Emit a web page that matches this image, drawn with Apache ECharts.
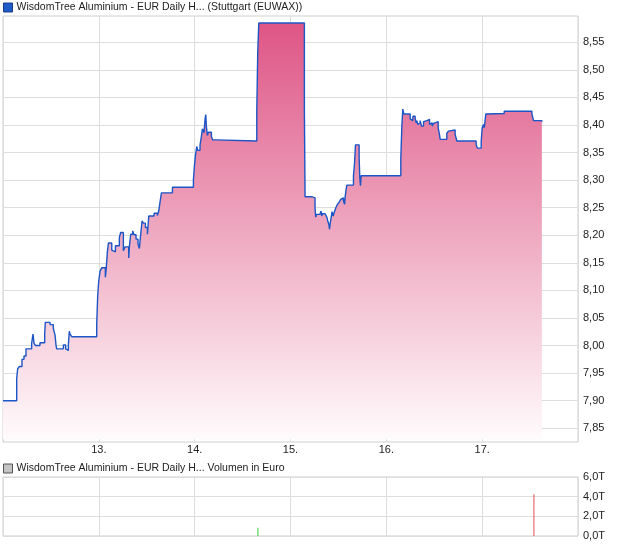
<!DOCTYPE html>
<html>
<head>
<meta charset="utf-8">
<script src="https://cdn.jsdelivr.net/npm/echarts@6/dist/echarts.min.js"></script>
<style>
html,body{margin:0;padding:0;background:#fff;}
#chart{width:620px;height:546px;}
</style>
</head>
<body>
<div id="chart"></div>
<script>
// ---- data ----
const seriesName = 'WisdomTree Aluminium - EUR Daily H... (Stuttgart (EUWAX))';
const volumeName = 'WisdomTree Aluminium - EUR Daily H... Volumen in Euro';
const dayTicks = [13, 14, 15, 16, 17];
const priceTicks = [7.85, 7.90, 7.95, 8.00, 8.05, 8.10, 8.15, 8.20, 8.25, 8.30, 8.35, 8.40, 8.45, 8.50, 8.55];
const volumeTicks = [0, 2, 4, 6];
// time in days (day-of-month, fractional)
const times = [
  12.000, 12.143, 12.153, 12.171, 12.198, 12.219, 12.240, 12.299, 12.313, 12.324,
  12.338, 12.386, 12.435, 12.442, 12.491, 12.525, 12.543, 12.553, 12.560, 12.630,
  12.654, 12.665, 12.682, 12.692, 12.699, 12.717, 12.978, 12.988, 12.999, 13.013,
  13.030, 13.068, 13.075, 13.089, 13.100, 13.135, 13.152, 13.173, 13.214, 13.228,
  13.256, 13.273, 13.312, 13.319, 13.333, 13.354, 13.367, 13.388, 13.409, 13.423,
  13.437, 13.451, 13.465, 13.486, 13.507, 13.521, 13.576, 13.611, 13.625, 13.635,
  13.653, 13.768, 13.987, 13.997, 14.008, 14.022, 14.032, 14.056, 14.070, 14.081,
  14.098, 14.109, 14.116, 14.122, 14.133, 14.143, 14.175, 14.189, 14.223, 14.648,
  14.658, 14.669,
  15.145, 15.152, 15.222, 15.256, 15.263, 15.273, 15.308, 15.319, 15.326, 15.333,
  15.361, 15.379, 15.389, 15.400, 15.407, 15.413, 15.424, 15.434, 15.445, 15.455,
  15.473, 15.490, 15.508, 15.525, 15.536, 15.553, 15.564, 15.571, 15.581, 15.588,
  15.657, 15.668, 15.678, 15.716, 15.723, 15.730, 15.737, 16.151, 16.162, 16.172,
  16.182, 16.249, 16.266, 16.277, 16.301, 16.312, 16.318, 16.329, 16.339, 16.353,
  16.367, 16.388, 16.405, 16.423, 16.451, 16.464, 16.478, 16.492, 16.509, 16.541,
  16.551, 16.562, 16.631, 16.649, 16.666, 16.718, 16.736, 16.937, 16.951, 16.990,
  17.000, 17.014, 17.021, 17.028, 17.038, 17.049, 17.230, 17.519, 17.536, 17.623
];
const prices = [
  7.900, 7.940, 7.958, 7.962, 7.975, 7.981, 7.994, 8.004, 8.021, 8.004,
  8.000, 8.005, 8.022, 8.042, 8.038, 8.031, 8.019, 8.001, 7.994, 8.001,
  7.994, 7.991, 8.001, 8.026, 8.021, 8.016, 8.039, 8.090, 8.117, 8.135,
  8.141, 8.124, 8.135, 8.170, 8.186, 8.173, 8.170, 8.181, 8.196, 8.205,
  8.172, 8.179, 8.159, 8.180, 8.202, 8.208, 8.201, 8.193, 8.184, 8.176,
  8.202, 8.226, 8.222, 8.214, 8.202, 8.235, 8.240, 8.236, 8.244, 8.256,
  8.277, 8.287, 8.300, 8.325, 8.345, 8.361, 8.354, 8.364, 8.379, 8.393,
  8.386, 8.412, 8.419, 8.398, 8.381, 8.387, 8.379, 8.373, 8.371, 8.423,
  8.531, 8.585,
  8.426, 8.270, 8.268, 8.250, 8.233, 8.238, 8.241, 8.244, 8.235, 8.239,
  8.236, 8.233, 8.226, 8.220, 8.211, 8.220, 8.232, 8.243, 8.235, 8.241,
  8.250, 8.256, 8.260, 8.265, 8.268, 8.262, 8.256, 8.271, 8.284, 8.291,
  8.308, 8.330, 8.364, 8.342, 8.305, 8.290, 8.308, 8.339, 8.398, 8.429,
  8.420, 8.411, 8.408, 8.416, 8.412, 8.404, 8.408, 8.401, 8.404, 8.408,
  8.398, 8.406, 8.408, 8.410, 8.401, 8.404, 8.398, 8.403, 8.406, 8.395,
  8.386, 8.374, 8.385, 8.389, 8.391, 8.383, 8.371, 8.364, 8.358, 8.370,
  8.395, 8.401, 8.395, 8.404, 8.420, 8.421, 8.425, 8.420, 8.408, 8.406
];
const volumeTimes = [14.66, 17.54];
const volumeValues = [0.85, 4.25]; // in T (thousand) Euro

// ---- chart ----
const fmtDe = (v, d) => v.toFixed(d).replace('.', ',');
const priceData = times.map((t, i) => [t, prices[i]]);
const volumeData = volumeTimes.map((t, i) => [t, volumeValues[i]]);
const volColors = ['#33cc33', '#e05050'];
const FONT = 'Liberation Sans, Arial, sans-serif';

const chart = echarts.init(document.getElementById('chart'), null, {renderer: 'canvas'});
chart.setOption({
  animation: false,
  backgroundColor: '#ffffff',
  textStyle: {fontFamily: FONT},
  legend: [
    {
      left: 3, top: 2, padding: 0, itemWidth: 9, itemHeight: 9, itemGap: 6,
      icon: 'rect',
      textStyle: {fontSize: 10.5, color: '#222', fontFamily: FONT, padding: [0, 0, 0, -1]},
      data: [{name: seriesName, itemStyle: {color: '#1f5bc9', borderColor: '#1a3f86', borderWidth: 1}}],
      selectedMode: false
    },
    {
      left: 3, top: 463, padding: 0, itemWidth: 9, itemHeight: 9,
      icon: 'rect',
      textStyle: {fontSize: 10.5, color: '#222', fontFamily: FONT, padding: [0, 0, 0, -1]},
      data: [{name: volumeName, itemStyle: {color: '#c4c4c4', borderColor: '#555', borderWidth: 1}}],
      selectedMode: false
    }
  ],
  grid: [
    {left: 3, right: 42, top: 16, bottom: 104, show: true, borderColor: '#cfcfcf', borderWidth: 1, backgroundColor: 'transparent'},
    {left: 3, right: 42, top: 477, bottom: 10, show: true, borderColor: '#cfcfcf', borderWidth: 1, backgroundColor: 'transparent'}
  ],
  xAxis: [
    {
      type: 'value', gridIndex: 0, min: 12, max: 18, interval: 1,
      axisLine: {show: false}, axisTick: {show: false},
      splitLine: {show: true, lineStyle: {color: '#dddddd', width: 1}},
      axisLabel: {
        show: true, margin: 2, fontSize: 11, color: '#222', fontFamily: FONT,
        showMinLabel: false, showMaxLabel: false,
        formatter: v => dayTicks.includes(v) ? v + '.' : ''
      }
    },
    {
      type: 'value', gridIndex: 1, min: 12, max: 18, interval: 1,
      axisLine: {show: false}, axisTick: {show: false}, axisLabel: {show: false},
      splitLine: {show: true, lineStyle: {color: '#dddddd', width: 1}}
    }
  ],
  yAxis: [
    {
      type: 'value', gridIndex: 0, position: 'right', min: 7.8251, max: 8.5977,
      axisLine: {show: false},
      axisTick: {show: false, customValues: priceTicks},
      splitLine: {show: true, lineStyle: {color: '#dddddd', width: 1}},
      axisLabel: {customValues: priceTicks, margin: 5, fontSize: 11, color: '#222', fontFamily: FONT,
        formatter: v => fmtDe(v, 2)}
    },
    {
      type: 'value', gridIndex: 1, position: 'right', min: 0, max: 6, interval: 2,
      axisLine: {show: false}, axisTick: {show: false},
      splitLine: {show: true, lineStyle: {color: '#dddddd', width: 1}},
      axisLabel: {margin: 5, fontSize: 11, color: '#222', fontFamily: FONT,
        formatter: v => fmtDe(v, 1) + 'T'}
    }
  ],
  series: [
    {
      name: seriesName, type: 'line', xAxisIndex: 0, yAxisIndex: 0,
      data: priceData, step: 'end', showSymbol: false, symbol: 'none',
      lineStyle: {color: '#1c55c6', width: 1.4},
      itemStyle: {color: '#1f5bc9'},
      areaStyle: {
        origin: 7.830,
        opacity: 1,
        color: new echarts.graphic.LinearGradient(0, 0, 0, 1, [
          {offset: 0, color: '#de5585'},
          {offset: 1, color: '#fffbfc'}
        ])
      }
    },
    {
      name: volumeName, type: 'bar', xAxisIndex: 1, yAxisIndex: 1,
      data: volumeData, barWidth: 1,
      itemStyle: {color: p => volColors[p.dataIndex]}
    }
  ]
});
</script>
</body>
</html>
